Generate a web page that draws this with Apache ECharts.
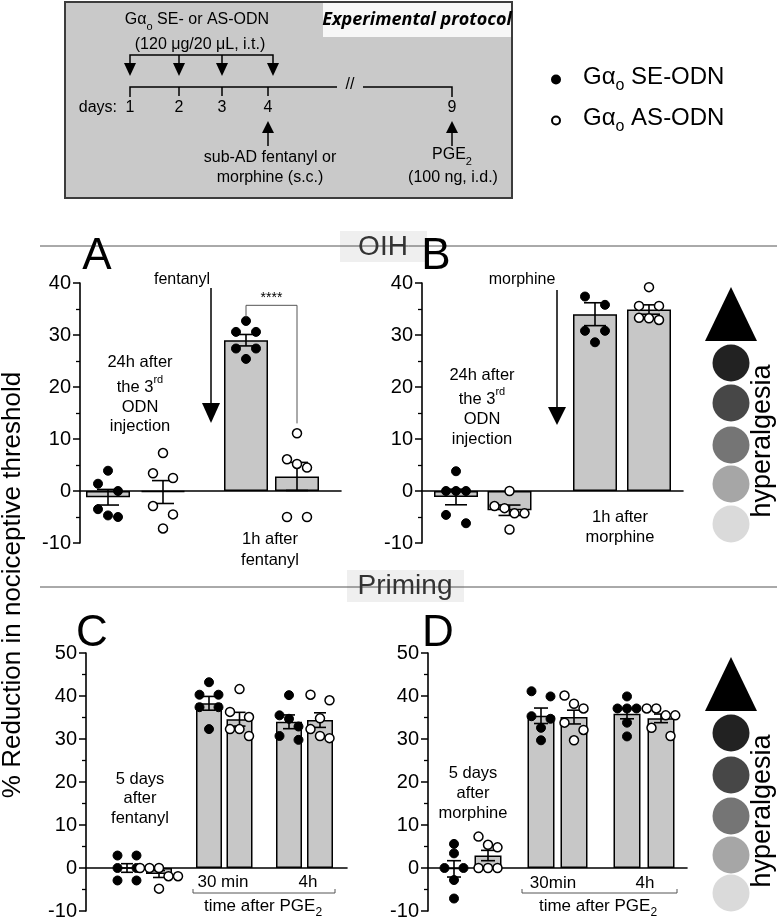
<!DOCTYPE html>
<html><head><meta charset="utf-8"><title>Gαo ODN – OIH and priming</title>
<script src="https://cdn.jsdelivr.net/npm/echarts@6/dist/echarts.min.js"></script>
<style>html,body{margin:0;padding:0;background:#fff;}#chart{width:777px;height:921px;}</style>
</head><body><div id="chart"></div>
<script>
// ---------------- DATA ----------------
const seriesNames = ['SE', 'AS'];
const yTicksOIH = [-10, 0, 10, 20, 30, 40];
const yTicksPriming = [-10, 0, 10, 20, 30, 40, 50];

// Panel A – OIH, fentanyl
const A_groups = ['24h after the 3rd ODN injection', '1h after fentanyl'];
const A_SE_points = [[3.9, 1.4, 0.0, -3.5, -5.0, -4.7], [32.7, 30.6, 30.6, 27.4, 27.4, 25.4]];
const A_AS_points = [[7.3, 3.4, 2.5, -2.9, -4.5, -7.2], [11.1, 6.1, 5.2, 4.5, -5.0, -5.0]];
const A_SE_mean = [-1.2, 29.0];
const A_SE_sem = [1.5, 1.1];
const A_AS_mean = [-0.2, 2.8];
const A_AS_sem = [2.2, 2.7];

// Panel B – OIH, morphine
const B_groups = ['24h after the 3rd ODN injection', '1h after morphine'];
const B_SE_points = [[3.8, 0.0, 0.0, 0.0, -4.6, -6.2], [37.4, 35.8, 30.8, 30.8, 28.6]];
const B_AS_points = [[0.0, -2.9, -3.3, -4.3, -4.3, -7.4], [39.2, 35.6, 35.6, 33.3, 33.2, 32.9]];
const B_SE_mean = [-1.15, 34.0];
const B_SE_sem = [1.5, 2.2];
const B_AS_mean = [-3.7, 34.9];
const B_AS_sem = [1.0, 0.9];

// Panel C – priming, fentanyl
const C_groups = ['5 days after fentanyl', '30 min', '4h'];
const C_SE_points = [[2.9, 2.9, 0.0, 0.0, -2.9, -2.9], [43.2, 40.3, 40.3, 37.4, 37.4, 32.3], [40.2, 35.5, 34.7, 32.9, 30.7, 29.8]];
const C_AS_points = [[0.0, 0.0, 0.0, -1.9, -1.9, -4.8], [41.6, 36.3, 35.1, 32.3, 32.3, 30.7], [40.3, 39.0, 34.8, 32.3, 30.7, 30.2]];
const C_SE_mean = [0.0, 38.3, 34.0];
const C_SE_sem = [1.0, 1.6, 1.6];
const C_AS_mean = [-1.4, 34.6, 34.4];
const C_AS_sem = [0.8, 1.6, 1.7];

// Panel D – priming, morphine
const D_groups = ['5 days after morphine', '30min', '4h'];
const D_SE_points = [[5.6, 3.4, 0.0, 0.0, -2.8, -7.1], [41.1, 39.9, 35.3, 34.7, 32.6, 29.7], [39.9, 37.1, 37.1, 37.1, 33.8, 30.6]];
const D_AS_points = [[7.3, 5.4, 4.8, 0.0, 0.0, 0.0], [40.1, 38.2, 37.1, 33.8, 32.1, 29.7], [37.1, 37.1, 35.5, 35.5, 32.6, 30.7]];
const D_SE_mean = [-0.2, 35.4, 35.9];
const D_SE_sem = [1.9, 1.8, 1.2];
const D_AS_mean = [2.9, 35.1, 34.8];
const D_AS_sem = [1.2, 1.6, 1.0];

// ---------------- LAYOUT ----------------
const FONT = '"Liberation Sans", Arial, Helvetica, sans-serif';
const panels = [
  {groups: A_groups, ticks: yTicksOIH, se: A_SE_points, as: A_AS_points, seM: A_SE_mean, seS: A_SE_sem, asM: A_AS_mean, asS: A_AS_sem,
   left: 80, top: 283, width: 261, height: 260, slots: [[28, 83], [166, 217]], barW: 44, cap: 11, spread: 10},
  {groups: B_groups, ticks: yTicksOIH, se: B_SE_points, as: B_AS_points, seM: B_SE_mean, seS: B_SE_sem, asM: B_AS_mean, asS: B_AS_sem,
   left: 422, top: 283, width: 261, height: 260, slots: [[34, 87.5], [173, 227]], barW: 44, cap: 11, spread: 10},
  {groups: C_groups, ticks: yTicksPriming, se: C_SE_points, as: C_AS_points, seM: C_SE_mean, seS: C_SE_sem, asM: C_AS_mean, asS: C_AS_sem,
   left: 86, top: 653, width: 261, height: 260, slots: [[41, 73], [123, 153.5], [203, 234]], barW: 26, cap: 6, spread: 9.5},
  {groups: D_groups, ticks: yTicksPriming, se: D_SE_points, as: D_AS_points, seM: D_SE_mean, seS: D_SE_sem, asM: D_AS_mean, asS: D_AS_sem,
   left: 428, top: 653, width: 259, height: 260, slots: [[26, 60], [113, 146], [199, 233]], barW: 27, cap: 7, spread: 9.5}
];

// beeswarm-like horizontal spread of points that would overlap
function swarm(values, pxPerUnit, d, s) {
  const idx = values.map((v, i) => i).sort((a, b) => values[b] - values[a]);
  const off = new Array(values.length).fill(0);
  const rows = [];
  let row = [idx[0]];
  for (let k = 1; k < idx.length; k++) {
    if ((values[idx[k - 1]] - values[idx[k]]) * pxPerUnit < d) row.push(idx[k]);
    else { rows.push(row); row = [idx[k]]; }
  }
  rows.push(row);
  rows.forEach(r => {
    if (r.length === 2) { off[r[0]] = -s; off[r[1]] = s; }
    else r.forEach((i, j) => { off[i] = (j - (r.length - 1) / 2) * s; });
  });
  return off;
}

const grids = [], xAxes = [], yAxes = [], series = [];
panels.forEach((p, pi) => {
  const ymin = p.ticks[0], ymax = p.ticks[p.ticks.length - 1];
  const ppu = p.height / (ymax - ymin);
  grids.push({left: p.left, top: p.top, width: p.width, height: p.height, containLabel: false});
  xAxes.push({gridIndex: pi, type: 'value', min: 0, max: p.width, show: true,
    axisLine: {show: true, onZero: true, lineStyle: {color: '#000', width: 1.6}},
    axisTick: {show: false}, axisLabel: {show: false}, splitLine: {show: false}});
  yAxes.push({gridIndex: pi, type: 'value', min: ymin, max: ymax, interval: 10,
    axisLine: {show: true, lineStyle: {color: '#000', width: 1.6}},
    axisTick: {show: true, length: 7, lineStyle: {color: '#000', width: 1.5}},
    minorTick: {show: true, splitNumber: 2, length: 4, lineStyle: {color: '#000', width: 1.3}},
    axisLabel: {fontSize: 20, fontFamily: FONT, color: '#000', margin: 9},
    splitLine: {show: false}});
  const bars = [], errs = [], seP = [], asP = [];
  p.groups.forEach((g, gi) => {
    const xs = p.slots[gi][0], xa = p.slots[gi][1];
    bars.push([xs, p.seM[gi]]); bars.push([xa, p.asM[gi]]);
    errs.push([xs, p.seM[gi], p.seS[gi]]); errs.push([xa, p.asM[gi], p.asS[gi]]);
    const o1 = swarm(p.se[gi], ppu, 9, p.spread);
    p.se[gi].forEach((v, i) => seP.push([xs + o1[i], v]));
    const o2 = swarm(p.as[gi], ppu, 9, p.spread);
    p.as[gi].forEach((v, i) => asP.push([xa + o2[i], v]));
  });
  series.push({type: 'bar', xAxisIndex: pi, yAxisIndex: pi, data: bars, barWidth: p.barW, z: 2, silent: true,
    itemStyle: {color: '#c7c7c7', borderColor: '#000', borderWidth: 1.5, opacity: 1}});
  const cap = p.cap;
  series.push({type: 'custom', xAxisIndex: pi, yAxisIndex: pi, data: errs, z: 3, silent: true,
    renderItem: function (params, api) {
      const x = api.value(0), m = api.value(1), s = api.value(2);
      const t = api.coord([x, m + s]), b = api.coord([x, m - s]);
      const st = {stroke: '#000', lineWidth: 1.6};
      return {type: 'group', children: [
        {type: 'line', shape: {x1: t[0], y1: t[1], x2: b[0], y2: b[1]}, style: st},
        {type: 'line', shape: {x1: t[0] - cap, y1: t[1], x2: t[0] + cap, y2: t[1]}, style: st},
        {type: 'line', shape: {x1: b[0] - cap, y1: b[1], x2: b[0] + cap, y2: b[1]}, style: st}
      ]};
    }});
  series.push({type: 'scatter', name: seriesNames[0], xAxisIndex: pi, yAxisIndex: pi, data: seP, symbol: 'circle', symbolSize: 9, z: 5, silent: true,
    itemStyle: {color: '#000', borderColor: '#000', borderWidth: 1, opacity: 1}});
  series.push({type: 'scatter', name: seriesNames[1], xAxisIndex: pi, yAxisIndex: pi, data: asP, symbol: 'circle', symbolSize: 9, z: 5, silent: true,
    itemStyle: {color: '#fff', borderColor: '#000', borderWidth: 1.5, opacity: 1}});
});

const chart = echarts.init(document.getElementById('chart'), null, {renderer: 'canvas'});
chart.setOption({
  animation: false,
  backgroundColor: '#fff',
  textStyle: {fontFamily: FONT},
  grid: grids, xAxis: xAxes, yAxis: yAxes, series: series,
  legend: {
    data: seriesNames, orient: 'vertical', left: 546, top: 60, itemWidth: 8, itemHeight: 8, itemGap: 12,
    icon: 'circle', selectedMode: false,
    formatter: n => n === 'SE' ? '{a|Gα}{s|o}{a| SE-ODN}' : '{a|Gα}{s|o}{a| AS-ODN}',
    textStyle: {color: '#000', fontFamily: FONT, fontSize: 24, padding: [0, 0, 0, 18],
      rich: {a: {fontSize: 24, fontFamily: FONT, color: '#000', verticalAlign: 'bottom', padding: [0, 0, 5, 0]},
             s: {fontSize: 16, fontFamily: FONT, color: '#000', verticalAlign: 'bottom'}}}
  }
});

// ---------------- DECORATIONS ----------------
const G = [];
function T(x, y, text, size, extra, rot) {
  const st = Object.assign({text: text, fontSize: size, fontFamily: FONT, fill: '#000', align: 'center', verticalAlign: 'middle',
    textAlign: 'center', textVerticalAlign: 'middle'}, extra || {});
  const el = {type: 'text', x: x, y: y, silent: true, z: 20, style: st};
  if (rot) el.rotation = rot;
  G.push(el);
}
function L(points, w, color) {
  G.push({type: 'polyline', silent: true, z: 19, shape: {points: points}, style: {stroke: color || '#000', lineWidth: w || 1.5, fill: null}});
}
function P(points, color) {
  G.push({type: 'polygon', silent: true, z: 19, shape: {points: points}, style: {fill: color || '#000'}});
}
function richSub(size, subSize) {
  return {a: {fontSize: size, fontFamily: FONT, fill: '#000', verticalAlign: 'bottom', padding: [0, 0, Math.round(size * 0.22), 0]},
          s: {fontSize: subSize, fontFamily: FONT, fill: '#000', verticalAlign: 'bottom'}};
}
function richSup(size, supSize) {
  return {a: {fontSize: size, fontFamily: FONT, fill: '#000', verticalAlign: 'top', padding: [Math.round(size * 0.3), 0, 0, 0]},
          s: {fontSize: supSize, fontFamily: FONT, fill: '#000', verticalAlign: 'top'}};
}

// Protocol box
G.push({type: 'rect', silent: true, z: 10, shape: {x: 65, y: 2, width: 447, height: 196}, style: {fill: '#c9c9c9', stroke: '#3c3c3c', lineWidth: 2}});
G.push({type: 'rect', silent: true, z: 11, shape: {x: 323, y: 3, width: 188, height: 34}, style: {fill: '#f7f7f7'}});
T(417, 20, 'Experimental protocol', 18, {fontFamily: '"Open Sans", sans-serif', fontWeight: 'bold', fontStyle: 'italic'});
T(197, 22, '{a|Gα}{s|o}{a| SE- or AS-ODN}', 16, {rich: richSub(16, 11)});
T(200, 45, '(120 μg/20 μL, i.t.)', 16);
L([[130, 63], [130, 55], [273, 55], [273, 63]]);
[179, 222].forEach(x => L([[x, 55], [x, 63]]));
[130, 179, 222, 273].forEach(x => P([[x - 6, 63], [x + 6, 63], [x, 76]]));
L([[130, 97], [130, 87], [337, 87]]);
L([[363, 87], [452, 87], [452, 97]]);
[179, 222, 268].forEach(x => L([[x, 87], [x, 96]]));
T(350, 85, '//', 16);
T(117, 108, 'days:', 16, {align: 'right', textAlign: 'right'});
[['1', 130], ['2', 179], ['3', 222], ['4', 268], ['9', 452]].forEach(d => T(d[1], 108, d[0], 16));
[268, 452].forEach(x => { P([[x - 6, 133], [x + 6, 133], [x, 121]]); L([[x, 133], [x, 146]]); });
T(270, 158, 'sub-AD fentanyl or', 16);
T(270, 178, 'morphine (s.c.)', 16);
T(452, 157, '{a|PGE}{s|2}', 16, {rich: richSub(16, 11)});
T(453, 178, '(100 ng, i.d.)', 16);

// Section headers
L([[40, 246], [777, 246]], 1, '#555');
G.push({type: 'rect', silent: true, z: 18, shape: {x: 340, y: 231, width: 87, height: 31}, style: {fill: '#efefef'}});
T(383, 247, 'OIH', 28, {fill: '#333'});
L([[40, 587], [777, 587]], 1, '#555');
G.push({type: 'rect', silent: true, z: 18, shape: {x: 347, y: 570, width: 117, height: 32}, style: {fill: '#efefef'}});
T(405, 586, 'Priming', 28, {fill: '#333'});

// Y title
T(13, 585, '% Reduction in nociceptive threshold', 26, null, Math.PI / 2);

// Panel letters
T(97, 257, 'A', 44);
T(436, 257, 'B', 44);
T(92, 634, 'C', 44);
T(438, 634, 'D', 44);

// Panel A annotations
T(182, 280, 'fentanyl', 16);
L([[211, 288], [211, 404]]); P([[202, 403], [220, 403], [211, 423]]);
T(140, 362, '24h after', 16.5);
T(140, 385, '{a|the 3}{s|rd}', 16.5, {rich: richSup(16.5, 11)});
T(140, 407, 'ODN', 16.5);
T(140, 426, 'injection', 16.5);
T(270, 539, '1h after', 16.5);
T(270, 560, 'fentanyl', 16.5);

// Panel B annotations
T(522, 280, 'morphine', 16);
L([[557, 290], [557, 408]]); P([[548, 407], [566, 407], [557, 425]]);
T(482, 375, '24h after', 16.5);
T(482, 397, '{a|the 3}{s|rd}', 16.5, {rich: richSup(16.5, 11)});
T(482, 419, 'ODN', 16.5);
T(482, 439, 'injection', 16.5);
T(620, 517, '1h after', 16.5);
T(620, 537, 'morphine', 16.5);

// Panel C annotations
T(140, 779, '5 days', 16.5);
T(140, 798, 'after', 16.5);
T(140, 818, 'fentanyl', 16.5);
T(223, 882, '30 min', 17);
T(308, 882, '4h', 17);
L([[193, 889], [193, 893], [335, 893], [335, 889]], 1, '#555');
T(263, 908, '{a|time after PGE}{s|2}', 17, {rich: richSub(17, 12)});

// Panel D annotations
T(473, 773, '5 days', 16.5);
T(473, 793, 'after', 16.5);
T(473, 813, 'morphine', 16.5);
T(553, 883, '30min', 17);
T(645, 883, '4h', 17);
L([[522, 889], [522, 893], [677, 893], [677, 889]], 1, '#555');
T(598, 908, '{a|time after PGE}{s|2}', 17, {rich: richSub(17, 12)});

// Hyperalgesia scales
const greys = ['#222222', '#474747', '#757575', '#a6a6a6', '#dadada'];
[[287, [363, 403, 445, 484, 524], 441], [657, [733, 775, 816, 855, 893], 811]].forEach(s => {
  P([[731, s[0]], [757, s[0] + 54], [705, s[0] + 54]], '#000');
  s[1].forEach((cy, i) => G.push({type: 'circle', silent: true, z: 15, shape: {cx: 731, cy: cy, r: 18.5}, style: {fill: greys[i]}}));
  T(763, s[2], 'hyperalgesia', 27, null, Math.PI / 2);
});

// Significance bracket in panel A (between the two fentanyl bars)
const pSE = chart.convertToPixel({xAxisIndex: 0, yAxisIndex: 0}, [panels[0].slots[1][0], 33.4]);
const pAS = chart.convertToPixel({xAxisIndex: 0, yAxisIndex: 0}, [panels[0].slots[1][1], 13]);
const yTop = pSE[1] - 12;
L([[pSE[0], pSE[1]], [pSE[0], yTop], [pAS[0], yTop], [pAS[0], pAS[1]]], 1, '#555');
T((pSE[0] + pAS[0]) / 2, yTop - 7, '****', 14);

chart.setOption({graphic: {elements: G}});
</script></body></html>
